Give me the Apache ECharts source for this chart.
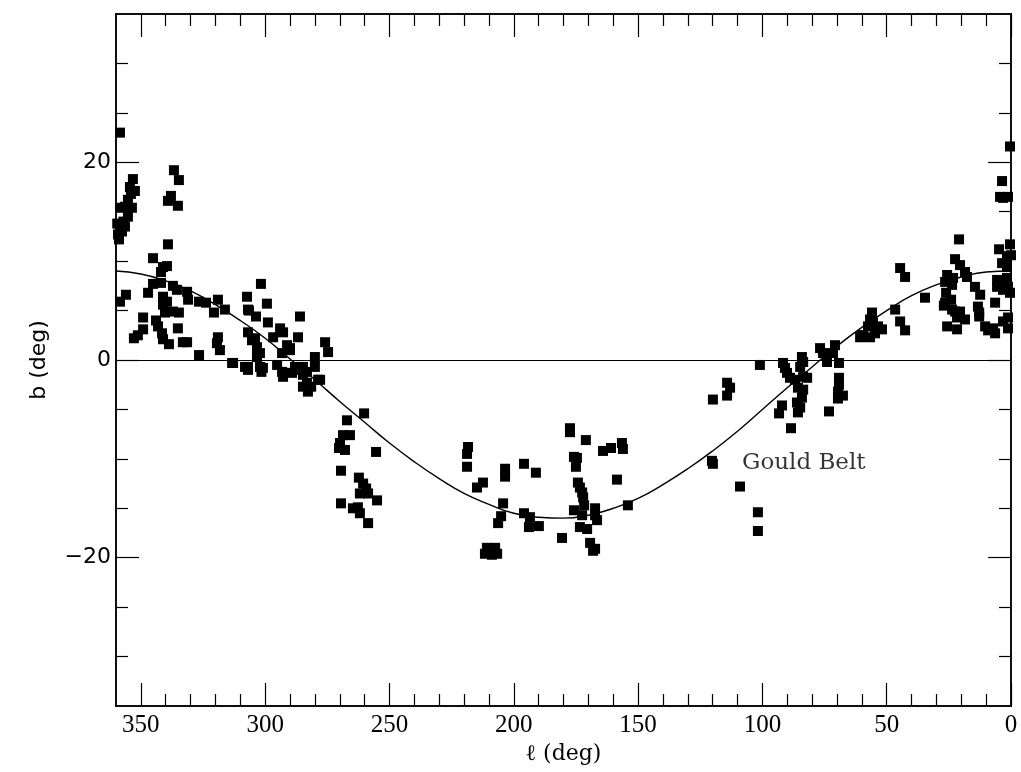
<!DOCTYPE html>
<html>
<head>
<meta charset="utf-8">
<script src="https://cdn.jsdelivr.net/npm/echarts@6/dist/echarts.min.js"></script>
<style>
  html, body { margin: 0; padding: 0; background: #fff; }
  #main { width: 1021px; height: 772px; }
</style>
</head>
<body>
<div id="main"></div>
<script>
// 银河坐标 (l, b)，按经度分段
var ptsWestHigh = [
  [358.4,23.0],[336.7,19.2],[334.7,18.2],[353.2,18.3],[354.4,17.5],[352.4,17.1],[337.9,16.6],
  [339.1,16.1],[335.1,15.6],[355.2,16.2],[353.6,15.4],[356.4,15.5],[358.4,15.4],[355.2,14.5],
  [356.4,13.5],[357.6,13.0],[359.2,12.7],[358.8,12.2],[339.1,11.7],[345.1,10.3],[339.5,9.5],
  [341.1,9.4],[357.0,14.0],[354.0,16.8],[359.5,13.8]
];
var ptsWestLow = [
  [341.9,8.9],[345.1,7.7],[341.9,7.8],[337.1,7.5],[335.5,7.1],[347.1,6.8],[331.4,6.9],[331.0,6.1],
  [356.0,6.6],[358.4,5.9],[341.1,6.4],[339.5,5.9],[341.1,5.6],[326.6,5.9],[323.8,5.8],[319.0,6.1],
  [320.6,4.8],[316.2,5.1],[340.3,4.8],[337.1,4.9],[334.7,4.8],[349.1,4.3],[343.9,4.0],[343.1,3.4],
  [335.1,3.2],[349.1,3.1],[351.2,2.5],[352.8,2.2],[341.5,2.7],[341.1,2.1],[338.7,1.6],[333.1,1.8],
  [331.4,1.8],[319.0,2.3],[319.4,1.7],[318.2,1.0],[326.6,0.5],[313.3,-0.3]
];
var ptsCentaurus = [
  [307.3,6.4],[306.9,5.1],[301.7,7.7],[299.3,5.7],[306.5,5.0],[303.7,4.4],[298.9,3.8],[286.0,4.4],
  [294.0,3.2],[292.8,2.8],[306.9,2.8],[296.8,2.3],[286.8,2.3],[305.3,2.0],[304.1,2.2],[275.9,1.8],
  [274.7,0.8],[280.0,0.3],[303.3,1.3],[302.1,0.7],[303.3,0.3],[291.2,1.5],[290.0,1.2],[290.0,1.0],
  [293.2,0.7],[312.9,-0.3],[306.9,-0.7],[306.9,-1.0],[308.1,-0.7],[302.1,-0.7],[300.9,-0.8],
  [301.5,-1.2],[295.2,-0.5],[293.2,-1.2],[292.8,-1.7],[289.2,-1.3],[288.0,-0.7],[286.5,-1.0],
  [284.8,-0.7],[284.8,-1.5],[283.2,-1.2],[283.2,-2.3],[280.0,-0.7],[278.7,-2.0],[277.9,-2.0],
  [284.8,-2.7],[282.8,-3.2],[281.5,-2.7]
];
var ptsVela = [
  [260.2,-5.4],[267.1,-6.1],[268.7,-7.6],[265.9,-7.6],[269.9,-8.4],[270.3,-8.9],[267.9,-9.1],
  [255.4,-9.3],[269.5,-11.2],[262.3,-11.9],[260.6,-12.5],[259.4,-13.0],[261.9,-13.5],[258.6,-13.5],
  [255.0,-14.2],[269.5,-14.5],[264.7,-15.0],[262.7,-14.9],[261.9,-15.5],[258.6,-16.5]
];
var ptsOrion = [
  [218.4,-8.8],[218.8,-9.5],[218.8,-10.8],[203.5,-11.0],[203.5,-11.8],[195.9,-10.5],[191.1,-11.4],
  [212.4,-12.4],[214.8,-12.9],[204.3,-14.5],[205.1,-15.8],[206.3,-16.5],[195.9,-15.5],[193.5,-15.9],
  [193.9,-16.9],[189.9,-16.8],[180.6,-18.0],[210.8,-19.0],[207.5,-19.0],[211.6,-19.6],[208.8,-19.7],
  [206.7,-19.6]
];
var ptsTaurus = [
  [177.4,-6.9],[177.4,-7.3],[171.0,-8.1],[164.1,-9.2],[160.9,-8.9],[156.5,-8.4],[156.1,-9.0],
  [175.8,-9.8],[174.6,-9.9],[175.0,-10.8],[158.5,-12.1],[174.2,-12.4],[173.4,-12.9],[172.5,-13.4],
  [172.1,-13.9],[171.7,-14.7],[175.8,-15.2],[167.3,-15.0],[167.3,-15.7],[166.5,-16.2],[172.5,-15.7],
  [173.4,-16.9],[170.5,-17.1],[154.1,-14.7],[169.3,-18.5],[168.1,-19.3],[167.3,-19.1]
];
var ptsCygnus = [
  [101.0,-0.5],[91.7,-0.3],[90.9,-0.8],[90.1,-1.3],[84.1,0.3],[83.6,-0.2],[84.8,-0.7],[76.8,1.2],
  [75.6,0.7],[70.8,1.5],[71.6,0.7],[74.0,-0.2],[69.2,-0.3],[88.9,-1.8],[86.9,-2.0],[83.6,-1.7],
  [82.0,-1.8],[85.7,-2.8],[83.6,-3.0],[84.1,-3.8],[86.1,-4.3],[84.8,-4.8],[85.7,-5.3],[69.2,-1.8],
  [69.2,-2.5],[69.6,-3.2],[67.6,-3.6],[69.6,-3.9],[92.1,-4.6],[93.3,-5.4],[73.2,-5.2],[88.5,-6.9],
  [114.2,-2.3],[113.0,-2.8],[114.2,-3.6],[119.9,-4.0],[120.3,-10.2],[119.9,-10.5],[109.0,-12.8],
  [101.8,-15.4],[101.8,-17.3]
];
var ptsOphiuchus = [
  [60.0,2.5],[56.7,2.3],[0.4,21.6],[3.6,18.1],[4.4,16.5],[3.2,16.4],[1.2,16.5],[20.9,12.2],
  [4.8,11.2],[0.4,11.7],[1.6,10.5],[0.0,10.6],[3.6,9.8],[1.6,9.4],[44.6,9.3],[42.6,8.4],[22.5,10.2],
  [20.5,9.6],[18.5,8.9],[17.7,8.4],[25.7,8.6],[24.5,8.1],[23.3,8.3],[23.7,7.6],[26.5,7.9],[5.6,8.1],
  [3.6,7.8],[1.6,8.3],[5.6,7.4],[3.2,7.1],[1.2,7.4],[0.4,6.8],[14.5,7.4],[12.4,6.6],[34.6,6.3],
  [26.1,6.8],[26.5,5.8],[24.1,6.1],[23.7,5.1],[22.5,4.9],[20.5,4.9],[21.7,4.3],[18.5,4.1],[25.7,3.4],
  [21.7,3.1],[13.3,5.4],[12.8,4.8],[12.8,4.4],[6.4,5.8],[10.4,3.4],[9.2,3.0],[7.2,3.2],[6.4,2.7],
  [3.2,3.9],[1.2,4.3],[1.2,3.2],[46.6,5.1],[44.6,3.9],[42.6,3.0],[55.9,4.8],[56.7,4.1],[55.5,3.8],
  [53.5,3.4],[51.9,3.1],[57.5,3.4],[59.5,2.5],[60.7,2.3],[54.7,2.7],[27.0,5.5]
];

// Gould Belt 曲线（从图上读取，每 10 度一个点）
var beltL = [0, 10, 20, 30, 40, 50, 60, 70, 80, 90, 100, 110, 120, 130, 140, 150, 160, 170, 180,
             190, 200, 210, 220, 230, 240, 250, 260, 270, 280, 290, 300, 310, 320, 330, 340, 350, 360];
var beltB = [9.0, 8.9, 8.4, 7.6, 6.5, 5.0, 3.3, 1.4, -0.7, -2.8, -5.0, -7.2, -9.2, -11.0, -12.6, -14.0, -15.0, -15.7, -16.0,
             -15.9, -15.5, -14.6, -13.5, -12.0, -10.3, -8.4, -6.3, -4.2, -2.0, 0.1, 2.2, 4.0, 5.6, 7.0, 8.0, 8.7, 9.0];

// 刻度
var lMajor = [0, 50, 100, 150, 200, 250, 300, 350];
var lMinor = [10, 20, 30, 40, 60, 70, 80, 90, 110, 120, 130, 140, 160, 170, 180, 190, 210, 220, 230, 240, 260, 270, 280, 290, 310, 320, 330, 340];
var bMajor = [-20, 0, 20];
var bMinor = [-30, -25, -15, -10, -5, 5, 10, 15, 25, 30];

var beltLabel = 'Gould Belt';
var beltLabelAt = [108.2, -10.4];

var black = '#000';

function xAx(pos, ticks, len, withLabel) {
  var a = {
    type: 'value', min: 0, max: 360, inverse: true, position: pos, gridIndex: 0,
    axisLine: { show: true, onZero: false, lineStyle: { color: black, width: 1.5 } },
    axisTick: { show: true, inside: true, length: len, customValues: ticks, lineStyle: { color: black, width: 1.2 } },
    axisLabel: { show: false },
    splitLine: { show: false }
  };
  if (withLabel) {
    a.axisLabel = { show: true, customValues: ticks, margin: 7, color: black, fontFamily: 'Liberation Serif', fontSize: 25 };
    a.name = 'ℓ (deg)';
    a.nameLocation = 'middle';
    a.nameGap = 34;
    a.nameTextStyle = { color: black, fontFamily: 'DejaVu Serif', fontSize: 22 };
  }
  return a;
}

function yAx(pos, ticks, len, withLabel) {
  var a = {
    type: 'value', min: -35, max: 35, position: pos, gridIndex: 0,
    axisLine: { show: true, onZero: false, lineStyle: { color: black, width: 1.5 } },
    axisTick: { show: true, inside: true, length: len, customValues: ticks, lineStyle: { color: black, width: 1.2 } },
    axisLabel: { show: false },
    splitLine: { show: false }
  };
  if (withLabel) {
    a.axisLabel = {
      show: true, customValues: ticks, margin: 5, color: black, fontFamily: 'DejaVu Sans', fontSize: 22,
      formatter: function (v) { return v < 0 ? '\u2212' + (-v) : '' + v; }
    };
    a.name = 'b (deg)';
    a.nameLocation = 'middle';
    a.nameGap = 66;
    a.nameTextStyle = { color: black, fontFamily: 'DejaVu Sans', fontSize: 22 };
  }
  return a;
}

var allPts = [].concat(ptsWestHigh, ptsWestLow, ptsCentaurus, ptsVela, ptsOrion, ptsTaurus, ptsCygnus, ptsOphiuchus);
var beltData = [];
for (var i = 0; i < beltL.length; i++) {
  beltData.push([beltL[i], beltB[i]]);
}

var myChart = echarts.init(document.getElementById('main'), null, { renderer: 'canvas' });
var option = {
  backgroundColor: '#fff',
  animation: false,
  grid: { left: 116, right: 10, top: 14, bottom: 66, outerBoundsMode: 'none', containLabel: false },
  xAxis: [
    xAx('bottom', lMajor, 23, true),
    xAx('bottom', lMinor, 12, false),
    xAx('top', lMajor, 23, false),
    xAx('top', lMinor, 12, false)
  ],
  yAxis: [
    yAx('left', bMajor, 23, true),
    yAx('left', bMinor, 12, false),
    yAx('right', bMajor, 23, false),
    yAx('right', bMinor, 12, false)
  ],
  series: [
    {
      name: 'belt',
      type: 'line',
      xAxisIndex: 0, yAxisIndex: 0,
      data: beltData,
      smooth: true,
      showSymbol: false,
      lineStyle: { color: black, width: 1.4 },
      silent: true,
      markLine: {
        silent: true,
        symbol: ['none', 'none'],
        label: { show: false },
        lineStyle: { color: black, width: 1.2, type: 'solid' },
        data: [{ yAxis: 0 }]
      },
      z: 2
    },
    {
      name: 'stars',
      type: 'scatter',
      xAxisIndex: 0, yAxisIndex: 0,
      data: allPts,
      symbol: 'rect',
      symbolSize: 10,
      itemStyle: { color: black, opacity: 1 },
      z: 3
    },
    {
      name: 'label',
      type: 'scatter',
      xAxisIndex: 0, yAxisIndex: 0,
      data: [beltLabelAt],
      symbolSize: 0,
      silent: true,
      label: {
        show: true, position: 'right', distance: 0, formatter: beltLabel,
        color: black, fontFamily: 'DejaVu Serif', fontSize: 23
      }
    }
  ]
};
myChart.setOption(option);
</script>
</body>
</html>
